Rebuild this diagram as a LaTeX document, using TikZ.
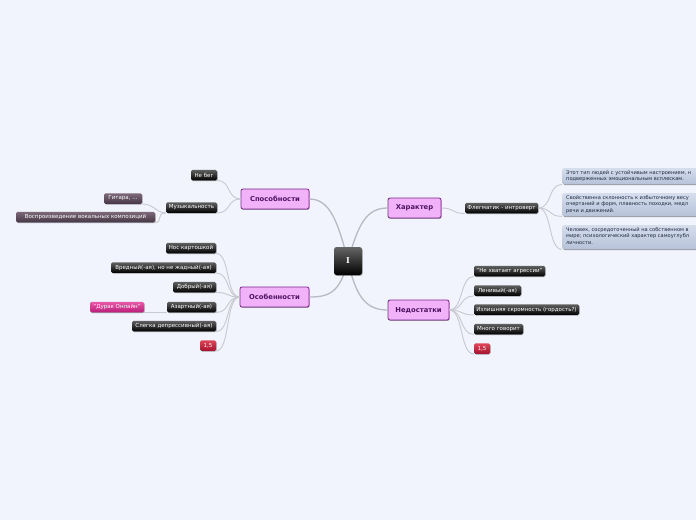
\documentclass[tikz,border=0pt]{standalone}
\usepackage{fontspec}
\setmainfont{DejaVu Sans}
\newfontfamily\serifI{DejaVu Serif}
\usetikzlibrary{shadows}
\definecolor{bg}{RGB}{241,243,253}
\definecolor{pinkfill}{RGB}{242,178,250}
\definecolor{pinkdraw}{RGB}{120,40,140}
\definecolor{pinktext}{RGB}{80,20,100}
\definecolor{connmain}{RGB}{185,185,195}
\definecolor{conn}{RGB}{200,200,208}
\definecolor{descA}{RGB}{214,222,238}
\definecolor{descB}{RGB}{182,194,216}
\definecolor{descT}{RGB}{30,40,60}
\definecolor{magA}{RGB}{232,90,168}
\definecolor{magB}{RGB}{185,30,120}
\definecolor{redA}{RGB}{222,70,90}
\definecolor{redB}{RGB}{165,20,45}
\definecolor{mauveA}{RGB}{125,105,122}
\definecolor{mauveB}{RGB}{70,55,70}
\tikzset{
  x=1pt, y=-1pt,
  shad/.style={drop shadow={shadow xshift=0.6pt, shadow yshift=-0.8pt, opacity=0.35, fill=black}},
  mainbox/.style={draw=pinkdraw, line width=0.8pt, fill=pinkfill, rounded corners=2pt, text=pinktext,
    font=\fontsize{6.8}{8}\selectfont\bfseries, inner sep=0pt, minimum height=20pt, shad},
  darkbox/.style={top color=black!62, bottom color=black, draw=none, rounded corners=1.5pt, text=white,
    font=\fontsize{5.5}{6}\selectfont, inner sep=0pt, minimum height=10.5pt, shad},
  mauvebox/.style={darkbox, top color=mauveA, bottom color=mauveB},
  magbox/.style={darkbox, top color=magA, bottom color=magB},
  redbox/.style={darkbox, top color=redA, bottom color=redB},
  descbox/.style={top color=descA, bottom color=descB, rounded corners=1.5pt, text=descT,
    inner sep=0pt, anchor=north west, shad},
  desctext/.style={anchor=north west, inner sep=0pt, text=descT, font=\fontsize{5.1}{6.2}\selectfont, align=left},
  cmain/.style={draw=connmain, line width=1.3pt},
  cchild/.style={draw=conn, line width=0.9pt},
}
\begin{document}
\begin{tikzpicture}
\fill[bg] (0,0) rectangle (696,520);
\useasboundingbox (0,0) rectangle (696,520);

% main topic nodes
\node[mainbox, minimum width=68pt] (spos) at (275,199) {Способности};
\node[mainbox, minimum width=69pt] (osob) at (274.5,297) {Особенности};
\node[mainbox, minimum width=53pt] (har) at (414.5,208) {Характер};
\node[mainbox, minimum width=61pt] (ned) at (418.5,310) {Недостатки};

% connectors from centre (drawn before centre box)
\coordinate (c) at (348,261);
\draw[cmain] (c) .. controls (338,222) and (330,199) .. (spos.east);
\draw[cmain] (c) .. controls (358,225) and (366,208) .. (har.west);
\draw[cmain] (c) .. controls (340,292) and (330,297) .. (osob.east);
\draw[cmain] (c) .. controls (356,297) and (366,310) .. (ned.west);

\node[top color=black!60, bottom color=black, rounded corners=2.5pt, minimum width=28pt, minimum height=28pt,
  inner sep=0pt, text=white, font=\serifI\fontsize{8}{9}\selectfont\bfseries, shad] (I) at (348,261) {I};

% Способности
\node[darkbox, minimum width=26pt] (neb) at (204,175) {Не бег};
\node[darkbox, minimum width=51pt] (muz) at (191.5,207.5) {Музыкальность};
\node[mauvebox, minimum width=38pt] (git) at (123,198.5) {Гитара, ...};
\node[mauvebox, minimum width=139pt] (vok) at (85.5,217) {Воспроизведение вокальных композиций};
\draw[cchild] (spos.west) .. controls +(-14,0) and +(14,0) .. (neb.south east);
\draw[cchild] (spos.west) .. controls +(-14,0) and +(14,0) .. (muz.south east);
\draw[cchild] (muz.south west) .. controls +(-10,0) and +(12,0) .. (git.south east);
\draw[cchild] (muz.south west) .. controls +(-10,0) and +(8,0) .. (vok.south east);

% Особенности
\node[darkbox, minimum width=50pt] (nos) at (191,248) {Нос картошкой};
\node[darkbox, minimum width=105pt] (vred) at (163.5,267.5) {Вредный(-ая), но не жадный(-ая)};
\node[darkbox, minimum width=43pt] (dob) at (194.5,287) {Добрый(-ая)};
\node[darkbox, minimum width=49pt] (azart) at (191.5,307) {Азартный(-ая)};
\node[magbox, minimum width=54pt] (durak) at (117,307) {"Дурак Онлайн"};
\node[darkbox, minimum width=84pt] (depr) at (174,326) {Слегка депрессивный(-ая)};
\node[redbox, minimum width=16pt] (oL) at (208,345.5) {1,5};
\foreach \n in {nos,vred,dob,azart,depr,oL}
  \draw[cchild] (osob.west) .. controls +(-14,0) and +(14,0) .. (\n.south east);
\draw[cchild] (azart.south west) -- (durak.south east);

% Характер
\node[darkbox, minimum width=73pt] (fleg) at (501.5,208) {Флегматик - интроверт};
\draw[cchild] (har.east) .. controls +(14,0) and +(-14,0) .. (fleg.south west);

\begin{scope}
\clip (0,0) rectangle (696,520);
\node[descbox, minimum width=150pt, minimum height=16pt] (d1) at (562,168) {};
\node[descbox, minimum width=150pt, minimum height=23pt] (d2) at (562,193) {};
\node[descbox, minimum width=150pt, minimum height=24pt] (d3) at (562,225) {};
\end{scope}
\node[desctext] (t1) at (566,170.5)
  {Этот тип людей с устойчивым настроением, н\\подверженных эмоциональным всплескам.};
\node[desctext] (t2) at (566,195.5)
  {Свойственна склонность к избыточному весу\\очертаний и форм, плавность походки, медл\\речи и движений.};
\node[desctext] (t3) at (566,227.5)
  {Человек, сосредоточенный на собственном в\\мире; психологический характер самоуглубл\\личности.};
\foreach \n in {d1,d2,d3}
  \draw[cchild] (fleg.east) .. controls +(14,0) and +(-14,0) .. (\n.south west);

% Недостатки
\node[darkbox, minimum width=71pt] (agr) at (509.5,271) {"Не хватает агрессии"};
\node[darkbox, minimum width=47pt] (len) at (497.5,290.5) {Ленивый(-ая)};
\node[darkbox, minimum width=105pt] (skr) at (526.5,309.5) {Излишняя скромность (гордость?)};
\node[darkbox, minimum width=49pt] (mng) at (498.5,329) {Много говорит};
\node[redbox, minimum width=16pt] (oR) at (482,348.5) {1,5};
\foreach \n in {agr,len,skr,mng,oR}
  \draw[cchild] (ned.east) .. controls +(14,0) and +(-14,0) .. (\n.south west);
\end{tikzpicture}
\end{document}
